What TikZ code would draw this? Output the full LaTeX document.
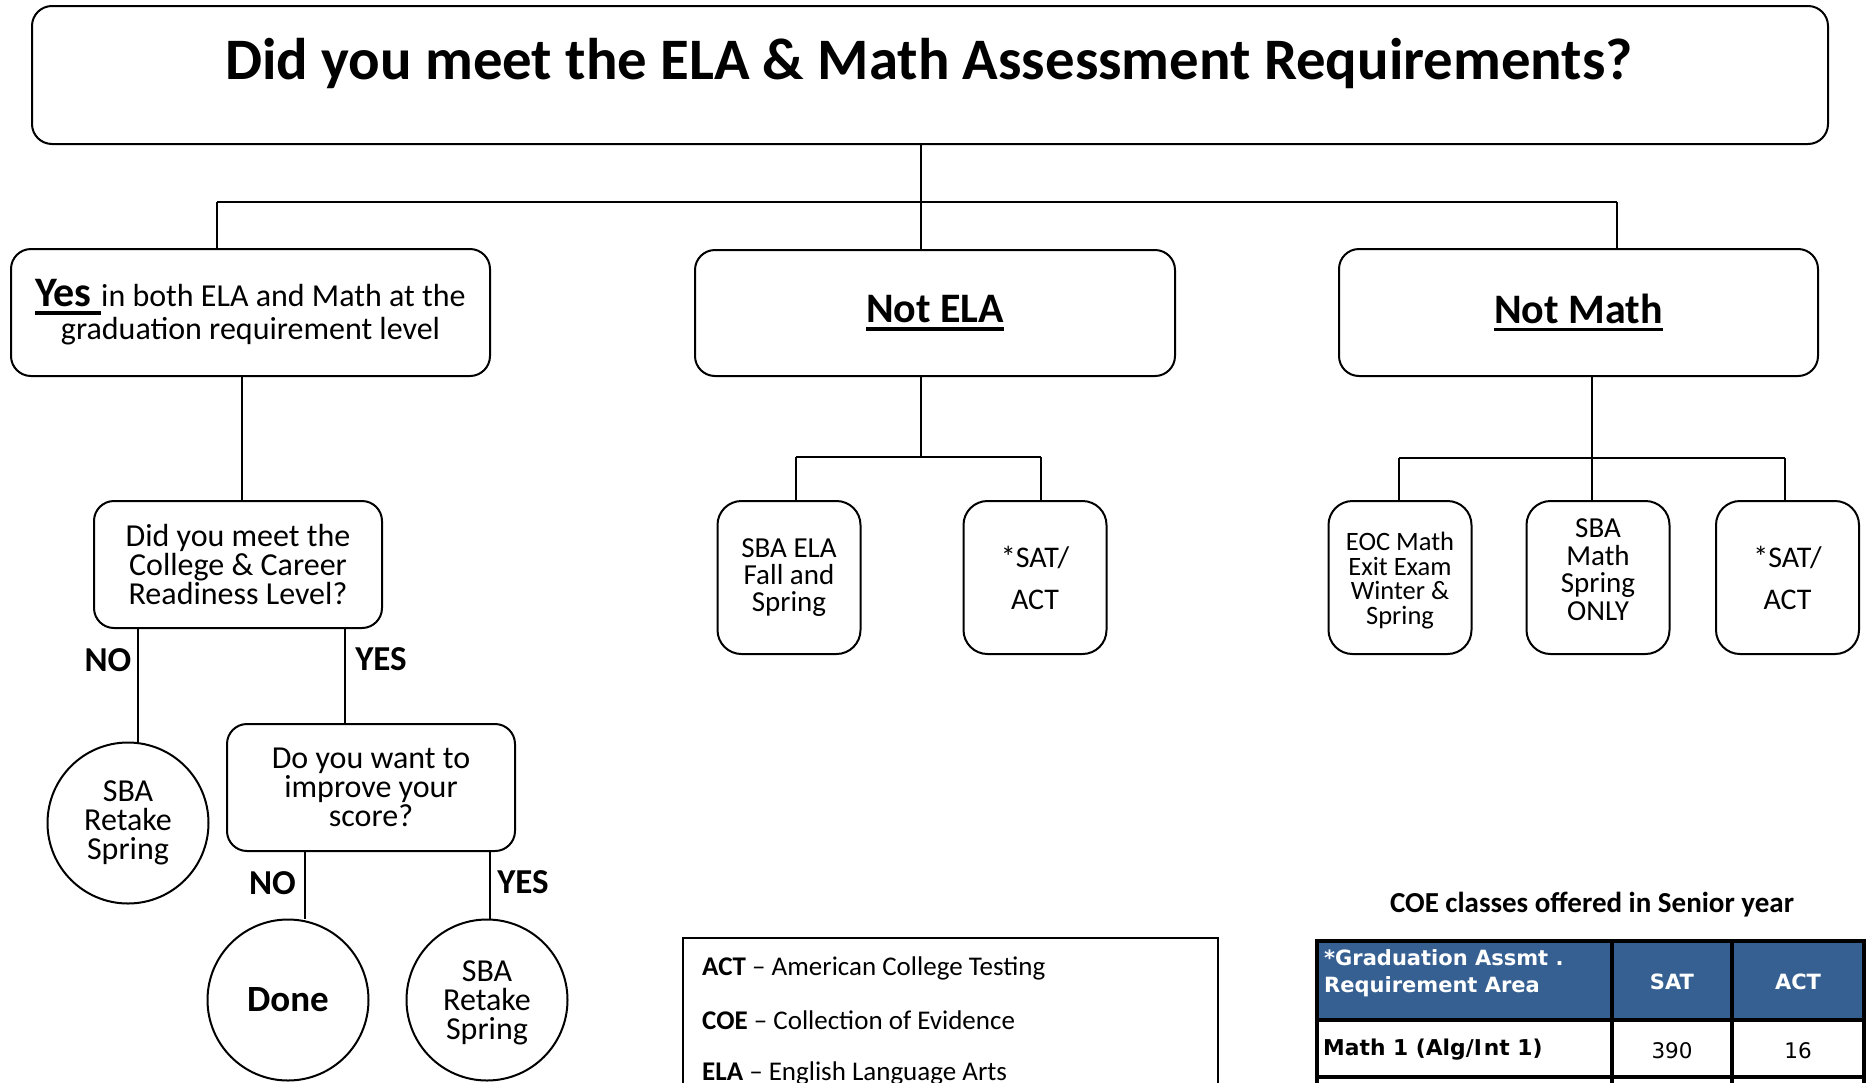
\documentclass[tikz,border=0pt]{standalone}
\usepackage{fontspec}
\setmainfont{Carlito}
\newfontfamily\tabfont{DejaVu Sans}
\definecolor{hdrblue}{HTML}{366092}
\newcommand{\myul}[1]{\setbox0\hbox{#1}\rlap{\rule[-8pt]{\wd0}{3.5pt}}\box0}
\newcommand{\fs}[2]{\fontsize{#1}{#2}\selectfont}
\begin{document}
\begin{tikzpicture}[x=1pt,y=-1pt,
 bx/.style={draw, line width=2pt, rounded corners=20pt, align=center, inner sep=0pt},
 sbx/.style={bx, rounded corners=24pt, minimum width=143pt, minimum height=153pt},
 circ/.style={draw, circle, line width=2pt, minimum size=161pt, inner sep=0pt, align=center},
 conn/.style={line width=1.6pt},
 lbl/.style={font=\fs{35}{40}\bfseries, inner sep=0pt},
 txt/.style={inner sep=0pt, align=center},
 legtxt/.style={anchor=west, inner sep=0pt, font=\fs{27}{30}},
 tbl/.style={line width=3.5pt},
 hdr/.style={inner sep=0pt, text=white, font=\tabfont\fs{21}{27}\bfseries, align=left},
 cell/.style={inner sep=0pt, font=\tabfont\fs{21.5}{27}},
]
\useasboundingbox (0,0) rectangle (1866,1082);

% title
\node[bx, minimum width=1796pt, minimum height=138pt] (title) at (930,75) {};
\node[txt, font=\fs{58.8}{60}\bfseries] (titletxt) at (929,63.5) {Did you meet the ELA \& Math Assessment Requirements?};

% second level
\node[bx, minimum width=479pt, minimum height=127pt, font=\fs{32}{33}] (yes) at (250.5,312.5)
  {{\fs{42}{33}\bfseries\myul{Yes\ }}in both ELA and Math at the\\graduation requirement level};
\node[bx, minimum width=480pt, minimum height=126pt, font=\fs{42}{46}\bfseries] (notela) at (935,313) {\myul{Not ELA}};
\node[bx, minimum width=479pt, minimum height=127pt, font=\fs{42}{46}\bfseries] (notmath) at (1578.5,312.5) {\myul{Not Math}};

% third level boxes
\node[sbx, font=\fs{29}{27}] (sbaela) at (789,577.5) {SBA ELA\\Fall and\\Spring};
\node[sbx, font=\fs{30}{42}] (sat1) at (1035,577.5) {*SAT/\\ACT};
\node[sbx] (eoc) at (1400,577.5) {};
\node[txt, font=\fs{26.5}{24.5}] (eoctxt) at (1400,580.5) {EOC Math\\Exit Exam\\Winter \&\\Spring};
\node[sbx] (sbamath) at (1598,577.5) {};
\node[txt, font=\fs{29}{27.5}] (sbamathtxt) at (1598,569.5) {SBA\\Math\\Spring\\ONLY};
\node[sbx, font=\fs{30}{42}] (sat2) at (1787.5,577.5) {*SAT/\\ACT};

% left branch
\node[bx, minimum width=288pt, minimum height=127pt, font=\fs{32}{29}] (ccr) at (238,564.5) {Did you meet the\\College \& Career\\Readiness Level?};
\node[bx, minimum width=288pt, minimum height=127pt, font=\fs{32}{29}] (imp) at (371,787.5) {Do you want to\\improve your\\score?};
\node[circ, font=\fs{32}{29}] (c1) at (128,823) {SBA\\Retake\\Spring};
\node[circ, font=\fs{37}{40}\bfseries] (done) at (288,1000) {Done};
\node[circ] (c2) at (487,1000) {};
\node[txt, font=\fs{32}{29}] (c2txt) at (487,1003) {SBA\\Retake\\Spring};

\node[lbl] (no1) at (108,660) {NO};
\node[lbl] (yes1) at (381,659) {YES};
\node[lbl] (no2) at (272.5,883) {NO};
\node[lbl] (yes2) at (523,882) {YES};

% connectors top
\coordinate (jt) at (921,202);
\coordinate (jl) at (217,202);
\coordinate (jr) at (1617,202);
\draw[conn] (title.south -| jt) -- (jt);
\draw[conn] (jl) -- (jr);
\draw[conn] (jl) -- (jl |- yes.north);
\draw[conn] (jt) -- (jt |- notela.north);
\draw[conn] (jr) -- (jr |- notmath.north);

% Not ELA
\coordinate (je) at (921,457);
\coordinate (je1) at (796,457);
\coordinate (je2) at (1041,457);
\draw[conn] (notela.south -| je) -- (je);
\draw[conn] (je1) -- (je2);
\draw[conn] (je1) -- (je1 |- sbaela.north);
\draw[conn] (je2) -- (je2 |- sat1.north);

% Not Math
\coordinate (jm) at (1592,458);
\coordinate (jm1) at (1399,458);
\coordinate (jm2) at (1785,458);
\draw[conn] (notmath.south -| jm) -- (jm |- sbamath.north);
\draw[conn] (jm1) -- (jm2);
\draw[conn] (jm1) -- (jm1 |- eoc.north);
\draw[conn] (jm2) -- (jm2 |- sat2.north);

% left branch connectors
\coordinate (ly) at (242,0);
\coordinate (lno) at (138,0);
\coordinate (lyes) at (345,0);
\coordinate (lno2) at (305,0);
\coordinate (lyes2) at (490,0);
\draw[conn] (yes.south -| ly) -- (ccr.north -| ly);
\draw[conn] (ccr.south -| lno) -- (c1.north -| lno);
\draw[conn] (ccr.south -| lyes) -- (imp.north -| lyes);
\draw[conn] (imp.south -| lno2) -- (done.north -| lno2);
\draw[conn] (imp.south -| lyes2) -- (c2.north -| lyes2);

% legend
\draw[line width=1.6pt] (683,1090) -- (683,938) -- (1218,938) -- (1218,1090);
\node[legtxt] (lact) at (702,968) {\textbf{ACT} -- American College Testing};
\node[legtxt] (lcoe) at (702,1020) {\textbf{COE} -- Collection of Evidence};
\node[legtxt] (lela) at (702,1073) {\textbf{ELA} -- English Language Arts};

% table
\node[inner sep=0pt, font=\fs{29}{32}\bfseries] (coetitle) at (1592,905) {COE classes offered in Senior year};
\fill[hdrblue] (1317,941) rectangle (1864,1020);
\draw[tbl] (1317,1090) -- (1317,941) -- (1864,941) -- (1864,1090);
\draw[tbl] (1317,1020) -- (1864,1020);
\draw[tbl] (1317,1077) -- (1864,1077);
\draw[tbl] (1612,941) -- (1612,1090);
\draw[tbl] (1732,941) -- (1732,1090);
\node[hdr, anchor=west] (h1) at (1324,973.5) {*Graduation Assmt .\\Requirement Area};
\node[hdr] (h2) at (1672,982) {SAT};
\node[hdr] (h3) at (1798,982) {ACT};
\node[cell, anchor=west, font=\tabfont\fs{21.8}{27}\bfseries] (r1) at (1323,1050) {Math 1 (Alg/I\kern2pt nt 1)};
\node[cell] (r2) at (1672,1051) {390};
\node[cell] (r3) at (1798,1051) {16};
\end{tikzpicture}
\end{document}
